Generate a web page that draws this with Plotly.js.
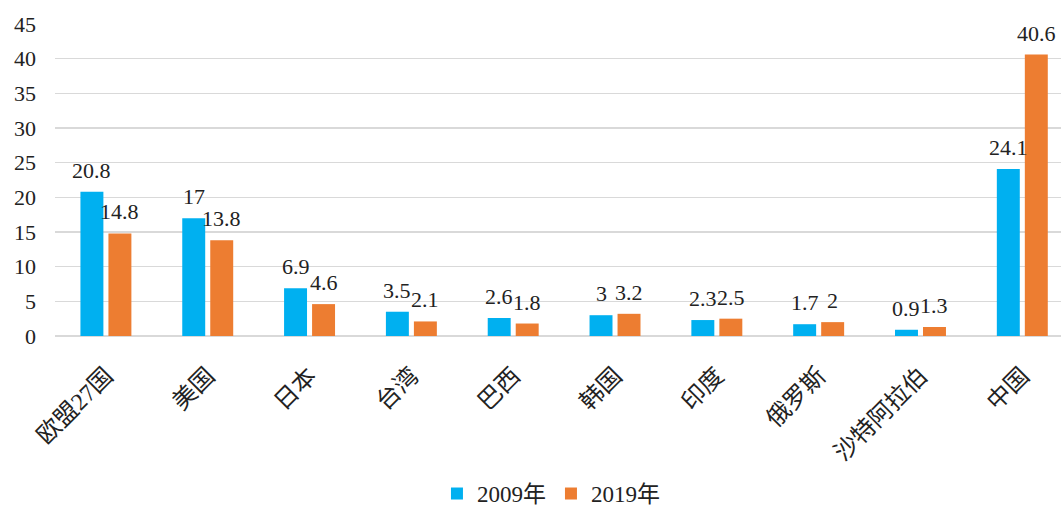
<!DOCTYPE html>
<html>
<head>
<meta charset="utf-8">
<script src="https://cdn.plot.ly/plotly-3.0.1.min.js"></script>
<style>html,body{margin:0;padding:0;background:#fff;}#chart{width:1061px;height:507px;}</style>
</head>
<body>
<div id="chart"></div>
<script>
const categories = ["欧盟27国", "美国", "日本", "台湾", "巴西", "韩国", "印度", "俄罗斯", "沙特阿拉伯", "中国"];
const values2009 = [20.8, 17, 6.9, 3.5, 2.6, 3, 2.3, 1.7, 0.9, 24.1];
const values2019 = [14.8, 13.8, 4.6, 2.1, 1.8, 3.2, 2.5, 2, 1.3, 40.6];
const seriesNames = ["2009年", "2019年"];
const yTicks = [0, 5, 10, 15, 20, 25, 30, 35, 40, 45];

const FONT = "'Liberation Serif', 'Times New Roman', 'Noto Sans CJK SC', serif";
const colors = ["#00B0F0", "#ED7D31"];

const traces = [values2009, values2019].map((vals, i) => ({
  type: "bar",
  name: seriesNames[i],
  x: categories,
  y: vals,
  marker: {color: colors[i]},
  hoverinfo: "x+y"
}));

const annotations = [];
[values2009, values2019].forEach((vals, i) => {
  vals.forEach((v, j) => {
    annotations.push({
      x: categories[j], y: v, xref: "x", yref: "y",
      text: String(v), showarrow: false,
      xshift: i === 0 ? -14 : 14, yshift: 7,
      yanchor: "bottom", xanchor: "center",
      font: {family: FONT, size: 22, color: "#222"}
    });
  });
});

const layout = {
  width: 1061, height: 507,
  margin: {l: 55, r: 0, t: 24, b: 171, autoexpand: false},
  paper_bgcolor: "#fff", plot_bgcolor: "#fff",
  font: {family: FONT, size: 21, color: "#222"},
  barmode: "group", bargap: 0.45, bargroupgap: 0.18,
  showlegend: true,
  legend: {orientation: "h", x: 0.493, xanchor: "center", y: -0.505, yanchor: "middle",
           font: {family: FONT, size: 23, color: "#222"}, traceorder: "normal",
           itemwidth: 30, borderwidth: 0},
  xaxis: {
    type: "category", range: [-0.5, 9.38], tickangle: -45, automargin: false,
    showgrid: false, showline: false, zeroline: false, ticks: "", ticklabelstandoff: 20,
    tickfont: {family: FONT, size: 24, color: "#222"}
  },
  yaxis: {
    range: [0, 45], tickvals: yTicks, ticktext: yTicks.map(String), automargin: false,
    showgrid: true, gridcolor: "#D9D9D9", gridwidth: 1.5,
    zeroline: true, zerolinecolor: "#D9D9D9", zerolinewidth: 1.5,
    showline: false, ticks: "", ticklabelstandoff: 18,
    tickfont: {family: FONT, size: 22, color: "#222"}
  },
  annotations: annotations
};

Plotly.newPlot("chart", traces, layout, {displayModeBar: false, staticPlot: true});
</script>
</body>
</html>
